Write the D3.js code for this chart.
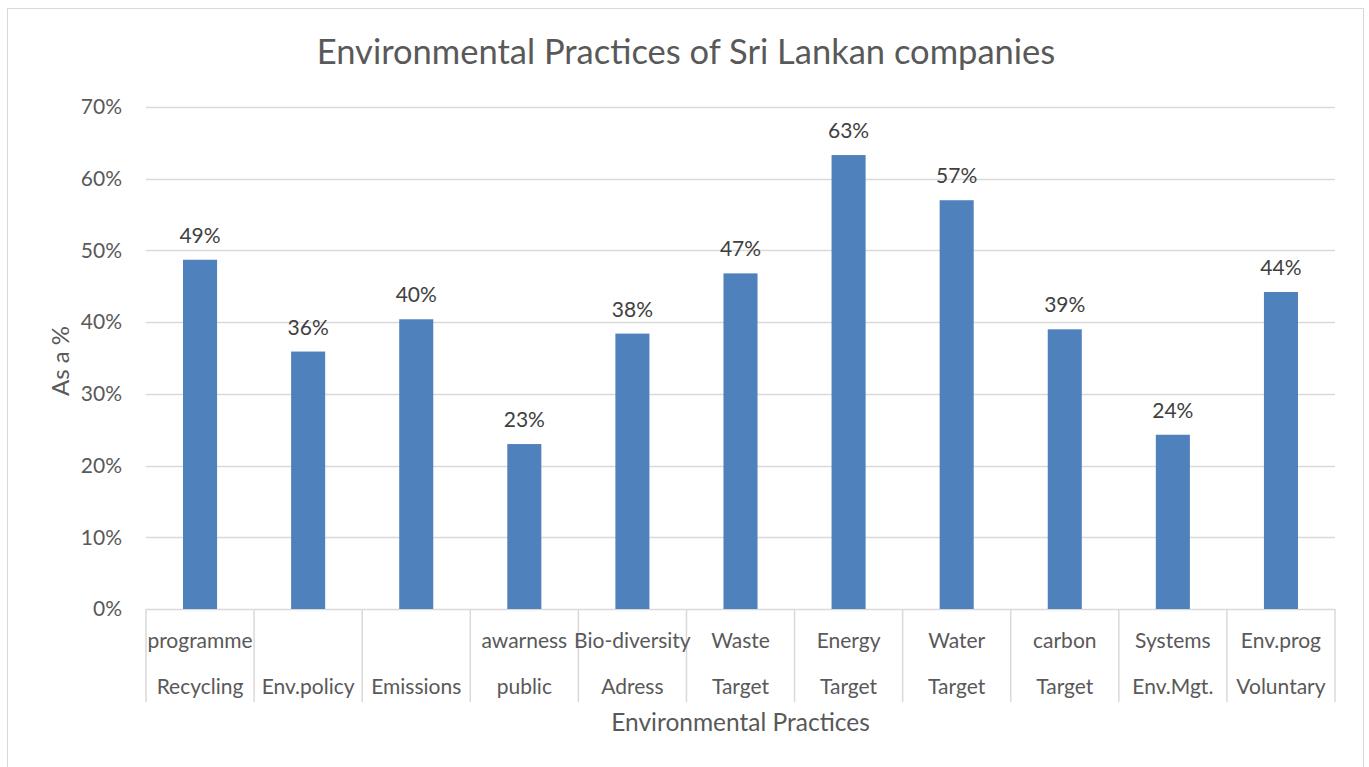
<!DOCTYPE html>
<html>
<head>
<meta charset="utf-8">
<script src="https://cdn.jsdelivr.net/npm/d3@7"></script>
<style>
  body { margin: 0; background: #fff; }
  text { font-family: Lato, sans-serif; fill: #595959; }
</style>
</head>
<body>
<div id="chart"></div>
<script>
// two-level category labels (upper row, lower row)
const catTop = ['programme', '', '', 'awarness', 'Bio-diversity', 'Waste', 'Energy', 'Water', 'carbon', 'Systems', 'Env.prog']
const catBottom = ['Recycling', 'Env.policy', 'Emissions', 'public', 'Adress', 'Target', 'Target', 'Target', 'Target', 'Env.Mgt.', 'Voluntary']
const values = [0.487, 0.359, 0.404, 0.230, 0.384, 0.468, 0.633, 0.570, 0.390, 0.243, 0.442]
const yTicks = [0, 0.1, 0.2, 0.3, 0.4, 0.5, 0.6, 0.7]

const W = 1369, H = 767
const m = { left: 146, right: 1335, top: 107, bottom: 609 }

const svg = d3.select('#chart').append('svg')
  .attr('width', W)
  .attr('height', H)

// outer chart border
svg.append('rect')
  .attr('x', 7.5).attr('y', 8.5)
  .attr('width', 1356).attr('height', 770)
  .attr('fill', 'none')
  .attr('stroke', '#d9d9d9')

const idx = d3.range(values.length)
const x = d3.scaleBand().domain(idx).range([m.left, m.right]).paddingInner(0.685).paddingOuter(0.3425)
const y = d3.scaleLinear().domain([0, 0.7]).range([m.bottom, m.top])

// gridlines
svg.append('g')
  .selectAll('line')
  .data(yTicks)
  .join('line')
  .attr('x1', m.left).attr('x2', m.right)
  .attr('y1', d => Math.round(y(d)) + 0.5)
  .attr('y2', d => Math.round(y(d)) + 0.5)
  .attr('stroke', '#d9d9d9')
  .attr('stroke-width', 1.5)

// y tick labels
svg.append('g')
  .selectAll('text')
  .data(yTicks)
  .join('text')
  .attr('x', 122)
  .attr('y', d => y(d))
  .attr('dy', '0.35em')
  .attr('text-anchor', 'end')
  .style('font-size', '21px')
  .text(d => d3.format('.0%')(d))

// bars
svg.append('g')
  .selectAll('rect')
  .data(values)
  .join('rect')
  .attr('x', (d, i) => x(i))
  .attr('width', x.bandwidth())
  .attr('y', d => y(d))
  .attr('height', d => y(0) - y(d))
  .attr('fill', '#4f81bd')

// data labels
svg.append('g')
  .selectAll('text')
  .data(values)
  .join('text')
  .attr('x', (d, i) => x(i) + x.bandwidth() / 2)
  .attr('y', d => y(d) - 17)
  .attr('text-anchor', 'middle')
  .style('font-size', '21px')
  .style('fill', '#404040')
  .text(d => d3.format('.0%')(d))

// category separators
const step = x.step()
svg.append('g')
  .selectAll('line')
  .data(d3.range(values.length + 1))
  .join('line')
  .attr('x1', i => m.left + i * step)
  .attr('x2', i => m.left + i * step)
  .attr('y1', m.bottom)
  .attr('y2', 702)
  .attr('stroke', '#d9d9d9')
  .attr('stroke-width', 1.5)

const cx = i => x(i) + x.bandwidth() / 2
svg.append('g')
  .selectAll('text')
  .data(catTop)
  .join('text')
  .attr('x', (d, i) => cx(i))
  .attr('y', 648)
  .attr('text-anchor', 'middle')
  .style('font-size', '21px')
  .text(d => d)

svg.append('g')
  .selectAll('text')
  .data(catBottom)
  .join('text')
  .attr('x', (d, i) => cx(i))
  .attr('y', 694)
  .attr('text-anchor', 'middle')
  .style('font-size', '21px')
  .text(d => d)

// titles
svg.append('text')
  .attr('x', 686).attr('y', 64)
  .attr('text-anchor', 'middle')
  .style('font-size', '34.5px')
  .text('Environmental Practices of Sri Lankan companies')

svg.append('text')
  .attr('x', (m.left + m.right) / 2).attr('y', 731)
  .attr('text-anchor', 'middle')
  .style('font-size', '24.5px')
  .text('Environmental Practices')

svg.append('text')
  .attr('transform', 'translate(69,' + 361 + ') rotate(-90)')
  .attr('text-anchor', 'middle')
  .style('font-size', '24px')
  .text('As a %')
</script>
</body>
</html>
